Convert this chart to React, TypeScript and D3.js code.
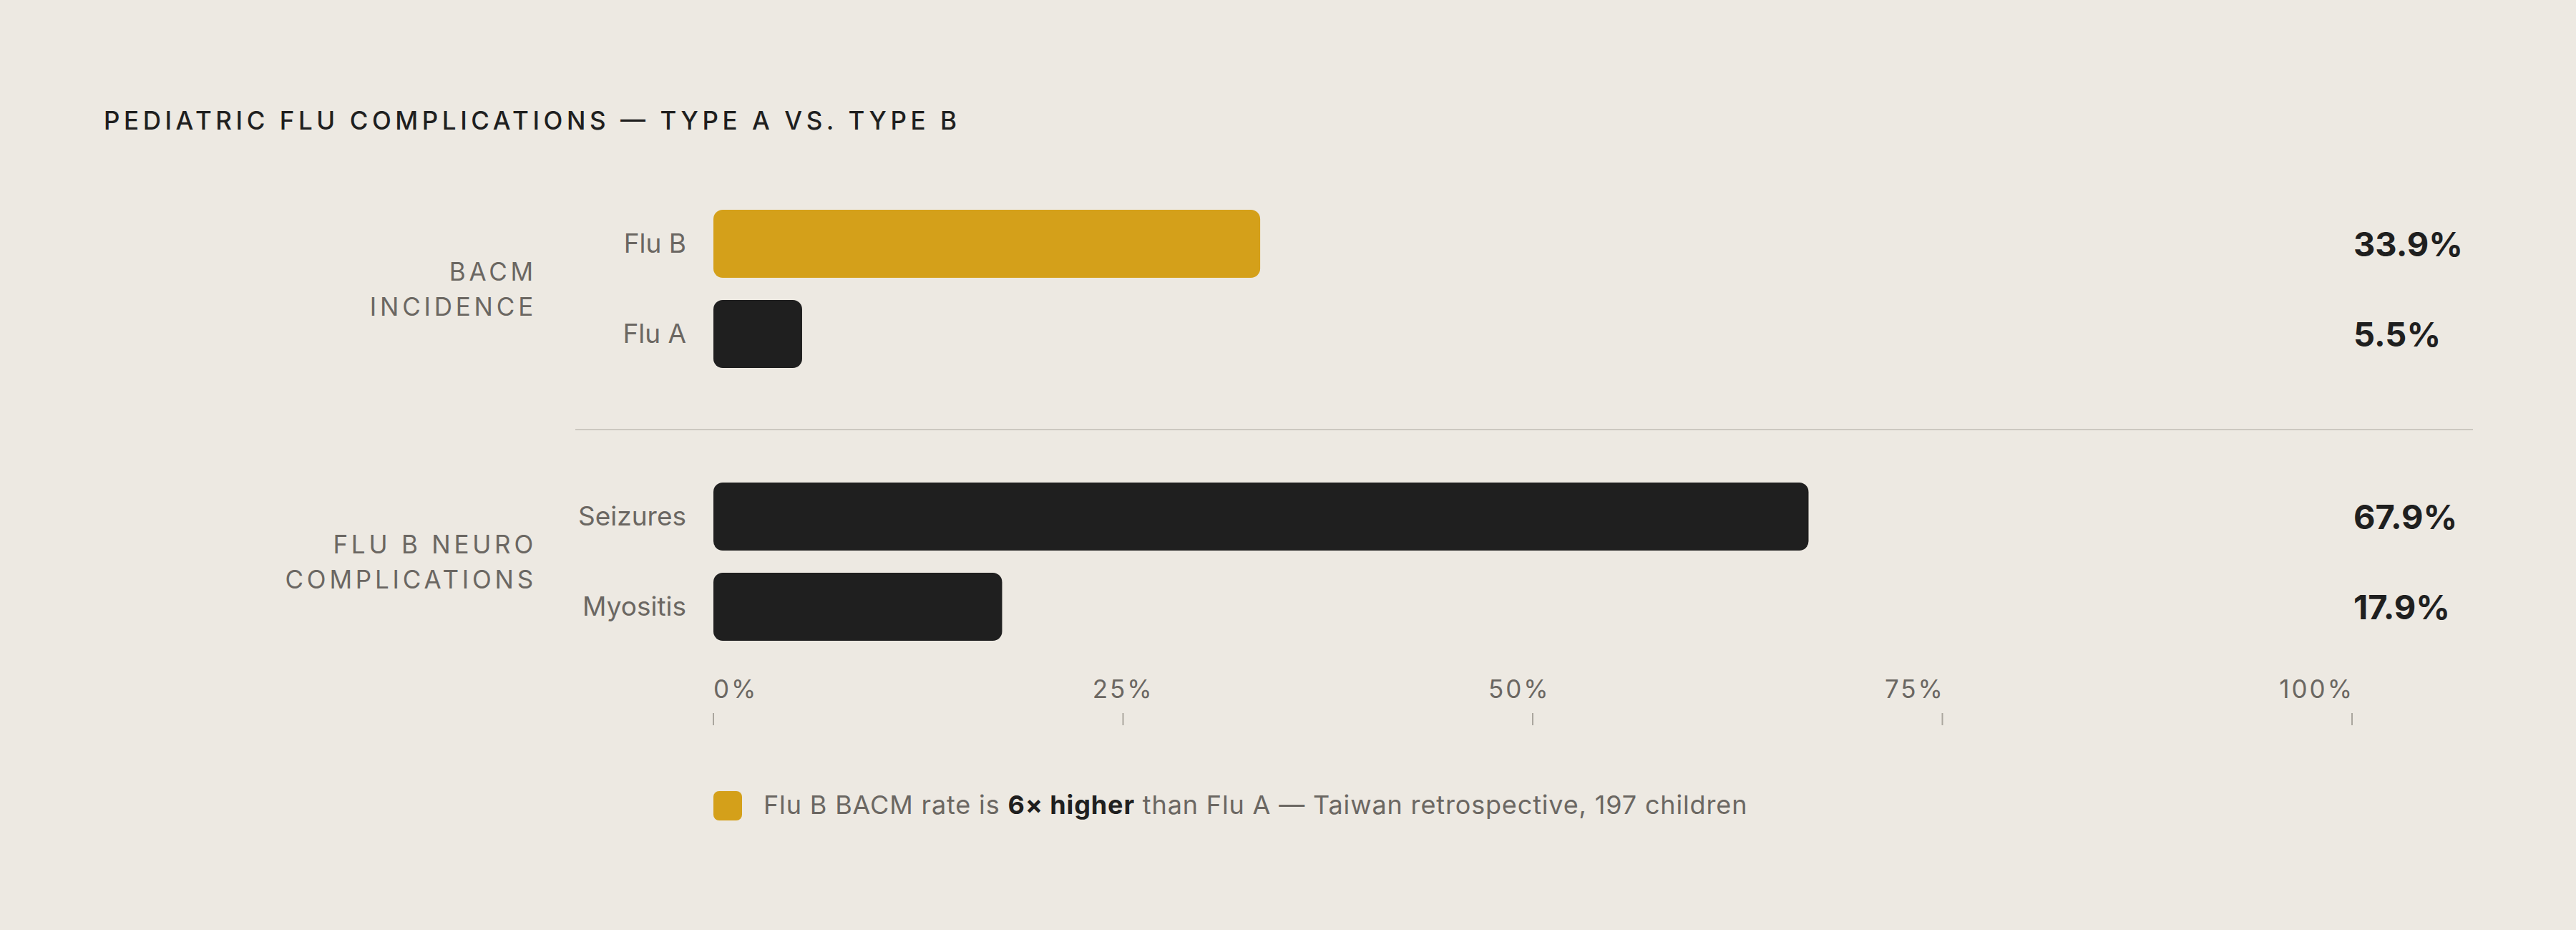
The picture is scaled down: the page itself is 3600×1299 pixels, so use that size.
import { useEffect, useRef } from 'react';
import * as d3 from 'd3';

// chart data
const categories = ['Flu B', 'Flu A', 'Seizures', 'Myositis'];
const values = [33.9, 5.5, 67.9, 17.9];
const groupIndex = [0, 0, 1, 1];
const highlighted = ['Flu B'];
const groupLabels = [['BACM', 'INCIDENCE'], ['FLU B NEURO', 'COMPLICATIONS']];
const tickValues = [0, 25, 50, 75, 100];
const title = 'PEDIATRIC FLU COMPLICATIONS — TYPE A VS. TYPE B';
const notePre = 'Flu B BACM rate is ';
const noteBold = '6× higher';
const notePost = ' than Flu A — Taiwan retrospective, 197 children';

const W = 3600;
const H = 1299;
const BG = '#ede9e2';
const GOLD = '#d4a01a';
const DARK = '#1f1f1f';
const GREY = '#6b6762';
const FONT = 'Inter, "DM Sans", "Noto Sans", sans-serif';

export default function App() {
    const svgRef = useRef<SVGSVGElement>(null);

    useEffect(() => {
        if (!svgRef.current) return;
        const svg = d3.select(svgRef.current);
        svg.selectAll('*').remove();

        svg.append('rect').attr('width', W).attr('height', H).attr('fill', BG);

        // scales
        const xAxis = d3.scaleLinear().domain([0, 100]).range([997, 3287]);
        const xBar = d3.scaleLinear().domain([0, 100]).range([997, 3251]);
        const groupGap = 1.024;
        const yRow = d3.scaleLinear().domain([0, 1]).range([340.5, 466.5]);
        const rowPos = (i: number) => yRow(i + groupIndex[i] * groupGap);
        const barH = 95;

        // title
        svg.append('text')
            .attr('x', 145)
            .attr('y', 181)
            .attr('font-family', FONT)
            .attr('font-size', 35)
            .attr('font-weight', 500)
            .attr('fill', DARK)
            .attr('textLength', 1192)
            .attr('lengthAdjust', 'spacing')
            .text(title);

        // separator between groups
        const sepY = (rowPos(1) + barH / 2 + rowPos(2) - barH / 2) / 2 + 6;
        svg.append('line')
            .attr('x1', 804).attr('x2', 3456)
            .attr('y1', sepY).attr('y2', sepY)
            .attr('stroke', '#ccc8c0')
            .attr('stroke-width', 2);

        // group labels
        groupLabels.forEach((lines, g) => {
            const idx = groupIndex.map((d, i) => (d === g ? i : -1)).filter(i => i >= 0);
            const cy = d3.mean(idx, i => rowPos(i)) as number;
            lines.forEach((line, li) => {
                svg.append('text')
                    .attr('x', 750)
                    .attr('y', cy - 12 + li * 49)
                    .attr('text-anchor', 'end')
                    .attr('font-family', FONT)
                    .attr('font-size', 35)
                    .attr('letter-spacing', 4.8)
                    .attr('fill', GREY)
                    .text(line);
            });
        });

        // bars
        const rows = svg.append('g');
        categories.forEach((cat, i) => {
            const cy = rowPos(i);
            rows.append('rect')
                .attr('x', xBar(0))
                .attr('y', cy - barH / 2)
                .attr('width', xBar(values[i]) - xBar(0))
                .attr('height', barH)
                .attr('rx', 13)
                .attr('fill', highlighted.includes(cat) ? GOLD : DARK);

            rows.append('text')
                .attr('x', 959)
                .attr('y', cy + 12)
                .attr('text-anchor', 'end')
                .attr('font-family', FONT)
                .attr('font-size', 37)
                .attr('fill', GREY)
                .text(cat);

            rows.append('text')
                .attr('x', 3289)
                .attr('y', cy + 17)
                .attr('font-family', FONT)
                .attr('font-size', 47)
                .attr('font-weight', 700)
                .attr('fill', DARK)
                .text(`${values[i]}%`);
        });

        // axis ticks
        const axis = svg.append('g');
        axis.selectAll('line')
            .data(tickValues)
            .enter()
            .append('line')
            .attr('x1', d => xAxis(d)).attr('x2', d => xAxis(d))
            .attr('y1', 996).attr('y2', 1013)
            .attr('stroke', '#aaa69e')
            .attr('stroke-width', 2);

        const tickLabels = axis.selectAll('text')
            .data(tickValues)
            .enter()
            .append('text')
            .attr('y', 975)
            .attr('font-family', FONT)
            .attr('font-size', 35)
            .attr('letter-spacing', 3)
            .attr('fill', GREY)
            .text(d => `${d}%`);

        // labels are spread edge to edge (space-between) across the axis
        const widths: number[] = [];
        tickLabels.each(function () {
            widths.push((this as SVGTextElement).getComputedTextLength() - 3);
        });
        const span = xAxis(100) - xAxis(0);
        const gap = (span - d3.sum(widths)) / (widths.length - 1);
        let cursor = xAxis(0);
        tickLabels.attr('x', (_, i) => {
            const x = cursor;
            cursor += widths[i] + gap;
            return x;
        });

        // note / legend
        svg.append('rect')
            .attr('x', 997).attr('y', 1105)
            .attr('width', 40).attr('height', 41)
            .attr('rx', 8)
            .attr('fill', GOLD);

        const note = svg.append('text')
            .attr('x', 1067)
            .attr('y', 1137)
            .attr('font-family', FONT)
            .attr('font-size', 36)
            .attr('letter-spacing', 0.85)
            .attr('fill', GREY);
        note.append('tspan').text(notePre);
        note.append('tspan').attr('font-weight', 700).attr('fill', DARK).text(noteBold);
        note.append('tspan').text(notePost);
    }, []);

    return (
        <svg
            ref={svgRef}
            width={W}
            height={H}
            viewBox={`0 0 ${W} ${H}`}
            style={{ position: 'absolute', left: 0, top: 0, display: 'block' }}
        />
    );
}
